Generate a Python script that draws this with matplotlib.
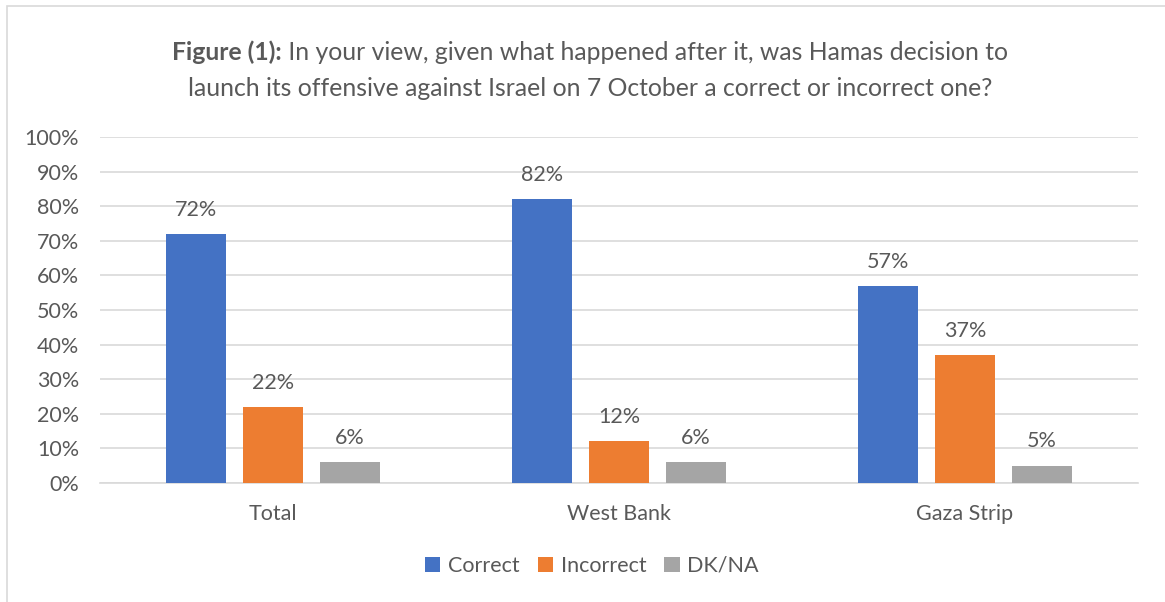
import matplotlib
matplotlib.use("Agg")
import matplotlib.pyplot as plt
import numpy as np
from matplotlib.patches import Rectangle

categories = ["Total", "West Bank", "Gaza Strip"]
series_names = ["Correct", "Incorrect", "DK/NA"]
correct = [72, 82, 57]
incorrect = [22, 12, 37]
dkna = [6, 6, 5]
yticks = [0, 10, 20, 30, 40, 50, 60, 70, 80, 90, 100]
ytick_labels = [f"{v}%" for v in yticks]

colors = ["#4472C4", "#ED7D31", "#A5A5A5"]
text_color = "#595959"
font = "Lato"

plt.rcParams["font.family"] = [font, "DejaVu Sans"]

fig = plt.figure(figsize=(11.65, 6.02), dpi=100)
ax = fig.add_axes([100/1165, 1-483/602, (1138-100)/1165, (483-137)/602])

fs = 15.5
x = np.arange(len(categories))
width = 0.173
offset = 0.222
for i, (vals, name) in enumerate(zip([correct, incorrect, dkna], series_names)):
    pos = x + (i - 1) * offset
    bars = ax.bar(pos, vals, width, color=colors[i], label=name, zorder=3)
    for b, v in zip(bars, vals):
        ax.text(b.get_x() + b.get_width()/2, v + 7.0, f"{v}%", ha="center", va="center",
                fontsize=fs, color=text_color)

ax.set_xlim(-0.5, 2.5)
ax.set_ylim(0, 100)
ax.set_yticks(yticks)
ax.set_yticklabels(ytick_labels, fontsize=fs, color=text_color)
ax.set_xticks(x)
ax.set_xticklabels(categories, fontsize=fs, color=text_color)
ax.tick_params(axis="both", length=0)
ax.tick_params(axis="y", pad=15)
ax.tick_params(axis="x", pad=15)
ax.yaxis.grid(True, color="#D9D9D9", linewidth=1.2, zorder=0)
for s in ["top", "right", "left"]:
    ax.spines[s].set_visible(False)
ax.spines["bottom"].set_color("#D9D9D9")
ax.spines["bottom"].set_linewidth(1.2)

leg = fig.legend(loc="center", bbox_to_anchor=(592/1165, 1-566/602), ncol=3, frameon=False,
                 fontsize=fs, handlelength=0.7, handleheight=0.7, handletextpad=0.35,
                 columnspacing=0.85)
for t in leg.get_texts():
    t.set_color(text_color)

# Title: bold prefix + regular text on line 1, regular line 2
fs_title = 17.8
cx = 590/1165
y1 = 1 - 52/602
y2 = 1 - 88/602
bold_part = "Figure (1):"
rest_part = " In your view, given what happened after it, was Hamas decision to"
line2 = "launch its offensive against Israel on 7 October a correct or incorrect one?"
tb = fig.text(0, y1, bold_part, fontsize=fs_title, fontweight="bold", color=text_color, va="center")
tr = fig.text(0, y1, rest_part, fontsize=fs_title, color=text_color, va="center")
fig.canvas.draw()
r = fig.canvas.get_renderer()
wb = tb.get_window_extent(r).width / fig.bbox.width
wr = tr.get_window_extent(r).width / fig.bbox.width
start = cx - (wb + wr) / 2
tb.set_x(start)
tr.set_x(start + wb)
fig.text(cx, y2, line2, fontsize=fs_title, color=text_color, va="center", ha="center")

# chart frame
fig.patches.append(Rectangle((7/1165, -0.1), 1.2, 1 - 6/602 + 0.1, transform=fig.transFigure,
                             fill=False, edgecolor="#D9D9D9", linewidth=1.2))

fig.savefig("out.png", dpi=100, facecolor="white")
